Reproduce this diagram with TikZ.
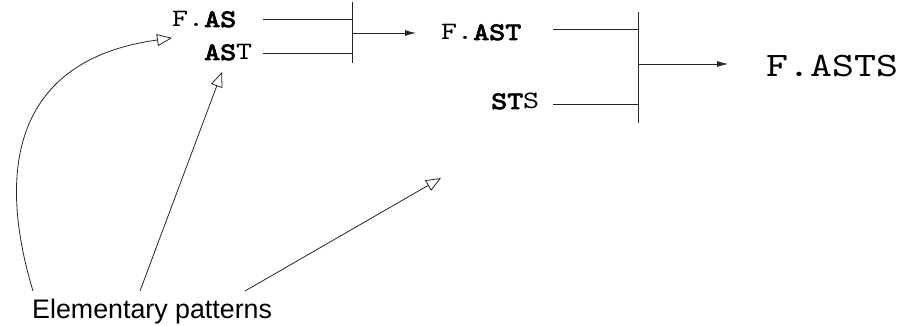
\documentclass[tikz,border=0pt]{standalone}
\usepackage{fontspec}
\newfontfamily\sansf{Liberation Sans}
\newfontfamily\monof{lmmono10-regular.otf}[FakeStretch=1.22]
\newfontfamily\monobf{lmmono10-regular.otf}[FakeStretch=1.22,FakeBold=3.5]
\newcommand{\bd}[1]{{\monobf #1}}
\usetikzlibrary{arrows.meta}
\tikzset{
  lab/.style={anchor=base west,inner sep=0pt,font=\monof\fontsize{25}{30}\selectfont},
  biglab/.style={anchor=base west,inner sep=0pt,font=\monof\fontsize{34.3}{40}\selectfont},
  caption/.style={anchor=base west,inner sep=0pt,font=\sansf\fontsize{26.8}{30}\selectfont},
  wire/.style={line width=0.8pt,draw=black!85},
  outarrow/.style={wire,-{Latex[length=11pt,width=6pt]}},
  pointer/.style={line width=0.8pt,draw=black!85,-{Triangle[open,length=15pt,width=12pt,line width=0.8pt]}}
}
\begin{document}
\begin{tikzpicture}[x=1pt,y=-1pt]
\useasboundingbox (0,0) rectangle (901,326);
% labels
\node[lab] (fas) at (172,27) {F.\bd{AS}};
\node[lab] (ast) at (204,60) {\bd{AS}T};
\node[lab] (fast) at (441,40) {F.\bd{AST}};
\node[lab] (sts) at (491,109) {\bd{ST}S};
\node[biglab] (fasts) at (766,77) {F.ASTS};
\node[caption] (elem) at (32,318) {Elementary patterns};
% first join
\coordinate (a1) at (263,19);
\coordinate (a2) at (263,53);
\coordinate (b1) at (352,19);
\coordinate (b2) at (352,53);
\coordinate (btop) at (352,2);
\coordinate (bbot) at (352,63);
\coordinate (bout) at (352,33);
\coordinate (bend) at (416,33);
\draw[wire] (a1) -- (b1);
\draw[wire] (a2) -- (b2);
\draw[wire] (btop) -- (bbot);
\draw[outarrow] (bout) -- (bend);
% second join
\coordinate (c1) at (553,29);
\coordinate (c2) at (553,104);
\coordinate (d1) at (638,29);
\coordinate (d2) at (638,104);
\coordinate (dtop) at (638,12);
\coordinate (dbot) at (638,123);
\coordinate (dout) at (638,64);
\coordinate (dend) at (728,64);
\draw[wire] (c1) -- (d1);
\draw[wire] (c2) -- (d2);
\draw[wire] (dtop) -- (dbot);
\draw[outarrow] (dout) -- (dend);
% pointers
\coordinate (s1) at (33,291);
\coordinate (s2) at (140,291);
\coordinate (s3) at (245,291);
\coordinate (t1) at (172,38);
\coordinate (t2) at (222,72);
\coordinate (t3) at (441,178);
\draw[pointer] (s1) .. controls (-8,155) and (25,58) .. (t1);
\draw[pointer] (s2) -- (t2);
\draw[pointer] (s3) -- (t3);
\end{tikzpicture}
\end{document}
